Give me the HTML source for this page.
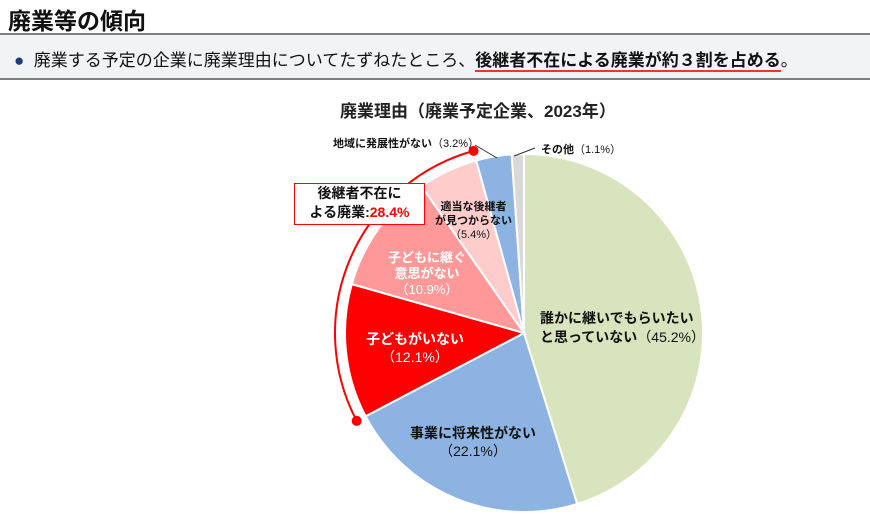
<!DOCTYPE html>
<html><head><meta charset="utf-8"><style>
body{margin:0;width:870px;height:527px;background:#fff;font-family:"Liberation Sans","Noto Sans CJK JP",sans-serif;overflow:hidden;position:relative}
.t{position:absolute;white-space:nowrap}
</style></head><body>
<div class="t" style="left:8px;top:2px;font-size:23px;font-weight:bold;color:#111">廃業等の傾向</div>
<div style="position:absolute;left:0;top:33px;width:870px;height:2px;background:#7f7f7f"></div>
<div style="position:absolute;left:0;top:35px;width:870px;height:43px;background:#f1f3f5;border-bottom:2px solid #7f7f7f"></div>
<div class="t" style="left:14px;top:46px;font-size:17px;color:#111"><span style="color:#1f3a7a">●</span>&nbsp;&nbsp;廃業する予定の企業に廃業理由についてたずねたところ、<b style="border-bottom:2px solid #e33">後継者不在による廃業が約３割を占める</b>。</div>
<div class="t" style="left:340px;top:97px;font-size:17px;font-weight:bold;color:#222">廃業理由（廃業予定企業、2023年）</div>
<svg id="c" width="870" height="527" style="position:absolute;left:0;top:0"></svg>
<script>
const categories=["誰かに継いでもらいたいと思っていない","事業に将来性がない","子どもがいない","子どもに継ぐ意思がない","適当な後継者が見つからない","地域に発展性がない","その他"];
const values=[45.2,22.1,12.1,10.9,5.4,3.2,1.1];
const colors=["#d7e4bd","#8db3e2","#ff0000","#ff9999","#ffcccc","#8db3e2","#d9d9d9"];
const successorShare=28.4;
const svg=document.getElementById('c');const NS="http://www.w3.org/2000/svg";
const cx=524,cy=333,r=179;
const total=values.reduce((a,b)=>a+b,0);
function pt(a,rr){const t=a/total*2*Math.PI;return [cx+rr*Math.sin(t),cy-rr*Math.cos(t)];}
let acc=0;
values.forEach((v,i)=>{const a0=acc,a1=acc+v;acc=a1;
const p0=pt(a0,r),p1=pt(a1,r);const large=v/total>0.5?1:0;
const p=document.createElementNS(NS,'path');
p.setAttribute('d',`M${cx},${cy}L${p0[0]},${p0[1]}A${r},${r} 0 ${large} 1 ${p1[0]},${p1[1]}Z`);
p.setAttribute('fill',colors[i]);p.setAttribute('stroke','#fff');p.setAttribute('stroke-width','2');


svg.appendChild(p);});
// successor arc
const s0=values[0]+values[1],s1=s0+successorShare,R=189;
const q0=pt(s0,R),q1=pt(s1,R);
const arc=document.createElementNS(NS,'path');
arc.setAttribute('d',`M${q0[0]},${q0[1]}A${R},${R} 0 0 1 ${q1[0]},${q1[1]}`);
arc.setAttribute('fill','none');arc.setAttribute('stroke','#f00');arc.setAttribute('stroke-width','2');


svg.appendChild(arc);
[q0,q1].forEach(q=>{const c=document.createElementNS(NS,'circle');c.setAttribute('cx',q[0]);c.setAttribute('cy',q[1]);c.setAttribute('r','5');c.setAttribute('fill','#f00');


svg.appendChild(c);});
// leader lines
function line(x1,y1,x2,y2,n){const l=document.createElementNS(NS,'polyline');l.setAttribute('points',`${x1},${y1} ${x2},${y2}`);l.setAttribute('stroke','#333');l.setAttribute('fill','none');


svg.appendChild(l);}
line(475,145,497,158,'leader-region');line(514,156,535,148,'leader-other');
</script>
<div class="t" style="left:333px;top:135px;font-size:11px;color:#111"><b>地域に発展性がない</b>（3.2%）</div>
<div class="t" style="left:541px;top:141px;font-size:11px;color:#111"><b>その他</b>（1.1%）</div>
<div style="position:absolute;left:294px;top:183px;width:129px;height:40px;border:1.5px solid #f00;background:#fff;text-align:center;font-size:14px;font-weight:bold;line-height:19px;color:#111">後継者不在に<br>よる廃業:<span style="color:#f00">28.4%</span></div>
<div class="t" style="left:435px;top:200px;font-size:11px;color:#111;text-align:center;line-height:14px"><b>適当な後継者<br>が見つからない</b><br>（5.4%）</div>
<div class="t" style="left:388px;top:250px;font-size:13px;color:#fff;text-align:center;line-height:16px"><b>子どもに継ぐ<br>意思がない</b><br>（10.9%）</div>
<div class="t" style="left:366px;top:330px;font-size:14px;color:#fff;text-align:center;line-height:18px"><b>子どもがいない</b><br>（12.1%）</div>
<div class="t" style="left:410px;top:424px;font-size:14px;color:#111;text-align:center;line-height:18px"><b>事業に将来性がない</b><br>（22.1%）</div>
<div class="t" style="left:540px;top:309px;font-size:14px;color:#111;line-height:19px"><b>誰かに継いでもらいたい<br>と思っていない</b>（45.2%）</div>
</body></html>
